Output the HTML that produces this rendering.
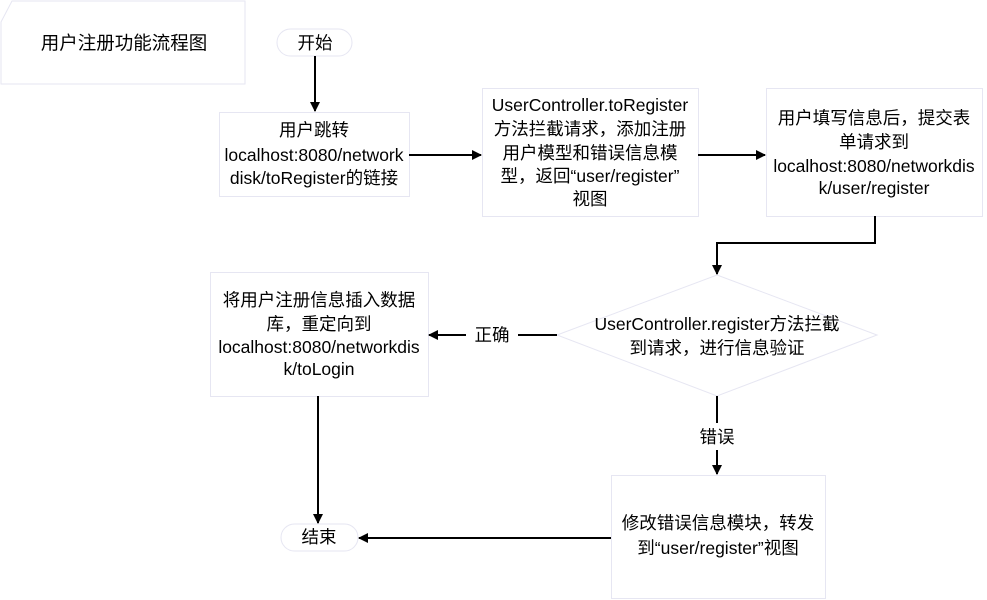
<!DOCTYPE html>
<html><head><meta charset="utf-8"><style>
html,body{margin:0;padding:0;background:#fff;}
svg{display:block;}
text{font-family:"Liberation Sans","Noto Sans CJK SC",sans-serif;font-size:17.5px;fill:#000;text-anchor:middle;dominant-baseline:central;}
</style></head><body>
<svg width="987" height="600" viewBox="0 0 987 600" xmlns="http://www.w3.org/2000/svg">
<defs><marker id="a" markerWidth="10" markerHeight="10" refX="9" refY="5" orient="auto" markerUnits="userSpaceOnUse"><path d="M0,0 L10,5 L0,10 z" fill="#000"/></marker></defs>
<g fill="#fff" stroke="#e6e6f2" stroke-width="1">
<path d="M12,1 L245,1 L245,84 L1,84 L1,22 Z"/>
<rect x="277" y="29" width="75" height="27" rx="13.5"/>
<rect x="219.5" y="112.5" width="190" height="84"/>
<rect x="482.5" y="88.5" width="216" height="128"/>
<rect x="766.5" y="88.5" width="216" height="128"/>
<path d="M717,275 L877,335 L717,396 L557,335 Z"/>
<rect x="210.5" y="272.5" width="218" height="124"/>
<rect x="611.5" y="475.5" width="214" height="123"/>
<rect x="281" y="524" width="77" height="27" rx="13.5"/>
</g>
<g stroke="#000" stroke-width="2" fill="none">
<line x1="315" y1="56" x2="315" y2="111" marker-end="url(#a)"/>
<line x1="409" y1="155" x2="481" y2="155" marker-end="url(#a)"/>
<line x1="698" y1="155" x2="765" y2="155" marker-end="url(#a)"/>
<polyline points="875,216 875,243 717,243 717,274" marker-end="url(#a)"/>
<line x1="557" y1="335" x2="518" y2="335"/>
<line x1="466" y1="335" x2="429" y2="335" marker-end="url(#a)"/>
<line x1="717" y1="396" x2="717" y2="423"/>
<line x1="717" y1="450" x2="717" y2="474" marker-end="url(#a)"/>
<line x1="611" y1="538" x2="359" y2="538" marker-end="url(#a)"/>
<line x1="318" y1="396" x2="318" y2="523" marker-end="url(#a)"/>
</g>
<text x="124" y="43" style="font-size:18.5px">用户注册功能流程图</text>
<text x="315" y="43">开始</text>
<text x="314" y="130">用户跳转</text>
<text x="314" y="155">localhost:8080/network</text>
<text x="314" y="178">disk/toRegister的链接</text>
<text x="590" y="105">UserController.toRegister</text>
<text x="590" y="129">方法拦截请求，添加注册</text>
<text x="590" y="153">用户模型和错误信息模</text>
<text x="590" y="176">型，返回“user/register”</text>
<text x="590" y="199">视图</text>
<text x="874" y="118">用户填写信息后，提交表</text>
<text x="874" y="142">单请求到</text>
<text x="874" y="166">localhost:8080/networkdis</text>
<text x="874" y="188">k/user/register</text>
<text x="717" y="324">UserController.register方法拦截</text>
<text x="717" y="348">到请求，进行信息验证</text>
<text x="492" y="335">正确</text>
<text x="319" y="300">将用户注册信息插入数据</text>
<text x="319" y="324">库，重定向到</text>
<text x="319" y="347">localhost:8080/networkdis</text>
<text x="319" y="369">k/toLogin</text>
<text x="717" y="437">错误</text>
<text x="718" y="523">修改错误信息模块，转发</text>
<text x="718" y="548">到“user/register”视图</text>
<text x="319" y="537">结束</text>
</svg>
</body></html>
